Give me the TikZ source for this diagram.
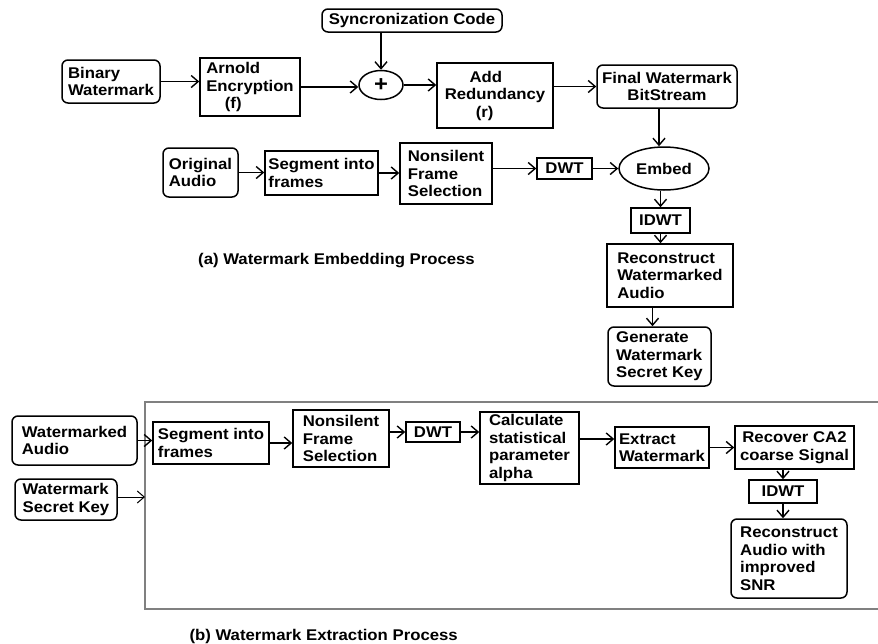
\documentclass[tikz,border=0pt]{standalone}
\usepackage{fontspec}
\setmainfont{Liberation Sans}[FakeStretch=1.08]
\usetikzlibrary{arrows.meta,shapes.geometric}
\begin{document}
\begin{tikzpicture}[x=1pt,y=-1pt,
  font=\fontsize{15.5}{17.5}\selectfont\bfseries,
  box/.style={draw, line width=1.5pt, align=left, inner sep=2pt},
  rbox/.style={box, rounded corners=6pt},
  ell/.style={draw, ellipse, line width=1.5pt, inner sep=0pt},
  arr/.style={line width=1.4pt, -{Straight Barb[length=7pt,width=12pt]}},
  thinarr/.style={line width=1pt, -{Straight Barb[length=7pt,width=12pt]}},
  frame/.style={draw=black!50, line width=1.5pt}]
\useasboundingbox (0,0) rectangle (878,643);

% ---------- (a) embedding ----------
\node[rbox, minimum width=180, minimum height=23] (sync) at (412,20.5) {Syncronization Code};
\node[rbox, minimum width=98, minimum height=43] (bw) at (111,81.5) {Binary\\Watermark};
\node[box, minimum width=100, minimum height=58] (arnold) at (250,87) {Arnold\\Encryption\\\hspace*{1.2em}(f)};
\node[ell, minimum width=44, minimum height=29] (plus) at (381,85) {\fontsize{22}{22}\selectfont +};
\node[box, minimum width=116, minimum height=65] (add) at (495,95.5) {\hspace*{1.6em}Add\\Redundancy\\\hspace*{2em}(r)};
\node[rbox, minimum width=140, minimum height=43, align=center] (final) at (667,86.5) {Final Watermark\\BitStream};
\node[rbox, minimum width=75, minimum height=49] (orig) at (200.5,172.5) {Original\\Audio};
\node[box, minimum width=113, minimum height=44] (seg1) at (321.5,173) {Segment into\\frames};
\node[box, minimum width=92, minimum height=61] (nons1) at (446,173.5) {Nonsilent\\Frame\\Selection};
\node[box, minimum width=55, minimum height=21, align=center] (dwt1) at (564.5,168.5) {DWT};
\node[ell, minimum width=90, minimum height=43] (embed) at (664,168.5) {Embed};
\node[box, minimum width=59, minimum height=25, align=center] (idwt1) at (660.5,220.5) {IDWT};
\node[box, minimum width=126, minimum height=63] (recon1) at (670,275.5) {Reconstruct\\Watermarked\\Audio};
\node[rbox, minimum width=103, minimum height=59] (gen) at (659.5,356.5) {Generate\\Watermark\\Secret Key};
\node[anchor=center] (capa) at (336.5,261) {(a) Watermark Embedding Process};

\draw[arr] (bw.east) -- (bw.east -| arnold.west);
\draw[arr] (arnold.east) -- (arnold.east -| plus.west);
\draw[arr] (plus.north |- sync.south) -- (plus.north);
\draw[arr] (plus.east) -- (plus.east -| add.west);
\draw[arr] (add.east |- final.west) -- (final.west);
\draw[arr] ([xshift=-8]final.south) -- ([xshift=-8]final.south |- embed.north);
\draw[arr] (nons1.east |- dwt1.west) -- (dwt1.west);
\draw[arr] (orig.east) -- (orig.east -| seg1.west);
\draw[arr] (seg1.east) -- (seg1.east -| nons1.west);
\draw[arr] (dwt1.east) -- (embed.west);
\draw[arr] (idwt1.north |- embed.south) -- (idwt1.north);
\draw[arr] (idwt1.south) -- (idwt1.south |- recon1.north);
\draw[arr] ([xshift=-7]gen.north |- recon1.south) -- ([xshift=-7]gen.north);

% ---------- (b) extraction ----------
\coordinate (ftr) at (878,402);
\coordinate (ftl) at (145,402);
\coordinate (fbl) at (145,609);
\coordinate (fbr) at (878,609);
\draw[frame] (ftr) -- (ftl) -- (fbl) -- (fbr);
\coordinate (keyin) at (145,497);

\node[rbox, minimum width=125, minimum height=49] (wa) at (74.5,440.5) {Watermarked\\Audio};
\node[rbox, minimum width=102, minimum height=41] (wsk) at (66,499.5) {Watermark\\Secret Key};
\node[box, minimum width=116, minimum height=42] (seg2) at (211,443) {Segment into\\frames};
\node[box, minimum width=96, minimum height=57] (nons2) at (341,438.5) {Nonsilent\\Frame\\Selection};
\node[box, minimum width=54, minimum height=20, align=center] (dwt2) at (433,432) {DWT};
\node[box, minimum width=99, minimum height=72] (calc) at (529.5,448) {Calculate\\statistical\\parameter\\alpha};
\node[box, minimum width=94, minimum height=41] (ext) at (662,447.5) {Extract\\Watermark};
\node[box, minimum width=119, minimum height=43, align=center] (rec) at (794.5,447.5) {Recover CA2\\coarse Signal};
\node[box, minimum width=68, minimum height=23, align=center] (idwt2) at (783,491.5) {IDWT};
\node[rbox, minimum width=116, minimum height=79] (recaud) at (789,558.5) {Reconstruct\\Audio with\\improved\\SNR};
\node[anchor=west] (capb) at (186,636) {(b) Watermark Extraction Process};

\draw[arr] (wa.east) -- (wa.east -| seg2.west);
\draw[thinarr] (wsk.east |- keyin) -- (keyin);
\draw[arr] (seg2.east) -- (seg2.east -| nons2.west);
\draw[arr] (nons2.east |- dwt2.west) -- (dwt2.west);
\draw[arr] (dwt2.east) -- (dwt2.east -| calc.west);
\draw[arr] ([yshift=8.5]ext.west -| calc.east) -- ([yshift=8.5]ext.west);
\draw[arr] (ext.east) -- (ext.east -| rec.west);
\draw[arr] (idwt2.north |- rec.south) -- (idwt2.north);
\draw[arr] (idwt2.south) -- (idwt2.south |- recaud.north);
\end{tikzpicture}
\end{document}
